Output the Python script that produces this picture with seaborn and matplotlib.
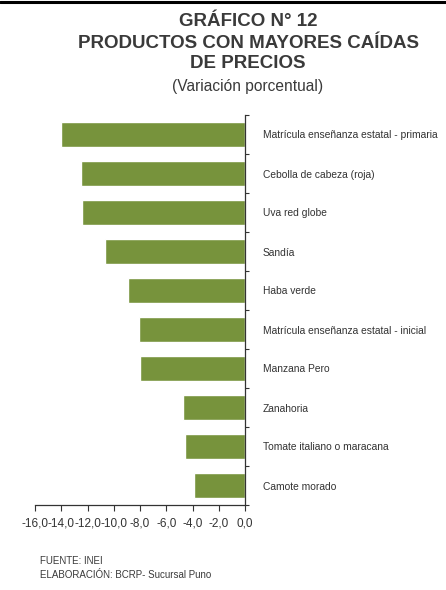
import matplotlib
matplotlib.use("Agg")
import matplotlib.pyplot as plt
from matplotlib.ticker import FuncFormatter, FixedLocator
import seaborn as sns
import pandas as pd

categories = [
    "Matrícula enseñanza estatal - primaria",
    "Cebolla de cabeza (roja)",
    "Uva red globe",
    "Sandía",
    "Haba verde",
    "Matrícula enseñanza estatal - inicial",
    "Manzana Pero",
    "Zanahoria",
    "Tomate italiano o maracana",
    "Camote morado",
]
values = [-14.0, -12.5, -12.4, -10.7, -8.9, -8.1, -8.0, -4.7, -4.6, -3.9]
xticks = [-16, -14, -12, -10, -8, -6, -4, -2, 0]

sns.set_theme(style="white")
plt.rcParams["font.family"] = ["Liberation Sans", "DejaVu Sans"]

df = pd.DataFrame({"cat": categories, "val": values})

fig = plt.figure(figsize=(4.46, 5.90), dpi=100)
ax = fig.add_axes([35 / 446, 1 - 505 / 590, 210 / 446, 390 / 590])
sns.barplot(data=df, x="val", y="cat", orient="h", color="#77933C",
            saturation=1, width=0.64, ax=ax)

ax.set_xlim(-16, 0)
ax.set_ylim(len(categories) - 0.5, -0.5)
ax.set_xlabel("")
ax.set_ylabel("")

ax.xaxis.set_major_locator(FixedLocator(xticks))
ax.xaxis.set_major_formatter(FuncFormatter(lambda v, p: f"{v:.1f}".replace(".", ",")))
ax.tick_params(axis="x", bottom=True, direction="out", length=4, width=0.8,
               color="#333333", labelsize=8.5, labelcolor="#333333", pad=5)

ax.yaxis.tick_right()
ax.tick_params(axis="y", right=False, left=False, labelsize=7.4,
               labelcolor="#333333", pad=7)
ax.yaxis.set_minor_locator(FixedLocator([i - 0.5 for i in range(len(categories) + 1)]))
ax.tick_params(axis="y", which="minor", right=True, left=False, direction="out",
               length=3, width=0.8, color="#333333")

for s in ["left", "top"]:
    ax.spines[s].set_visible(False)
for s in ["right", "bottom"]:
    ax.spines[s].set_visible(True)
    ax.spines[s].set_color("#333333")
    ax.spines[s].set_linewidth(0.9)

# top rule
fig.add_artist(plt.Line2D([0, 1], [1 - 1.5 / 590, 1 - 1.5 / 590], color="black", lw=2.2))

tc = "#3a3a3a"
fig.text(248 / 446, 1 - 22 / 590, "GRÁFICO N° 12", ha="center", va="center",
         fontsize=13.5, fontweight="bold", color=tc)
fig.text(248 / 446, 1 - 43 / 590, "PRODUCTOS CON MAYORES CAÍDAS", ha="center", va="center",
         fontsize=13.5, fontweight="bold", color=tc)
fig.text(248 / 446, 1 - 64 / 590, "DE PRECIOS", ha="center", va="center",
         fontsize=13.5, fontweight="bold", color=tc)
fig.text(248 / 446, 1 - 86 / 590, "(Variación porcentual)", ha="center", va="center",
         fontsize=11.2, color=tc)

fig.text(40 / 446, 1 - 561 / 590, "FUENTE: INEI", ha="left", va="center",
         fontsize=7, color=tc)
fig.text(40 / 446, 1 - 575 / 590, "ELABORACIÓN: BCRP- Sucursal Puno", ha="left", va="center",
         fontsize=7, color=tc)

fig.savefig("out.png", dpi=100, facecolor="white")
